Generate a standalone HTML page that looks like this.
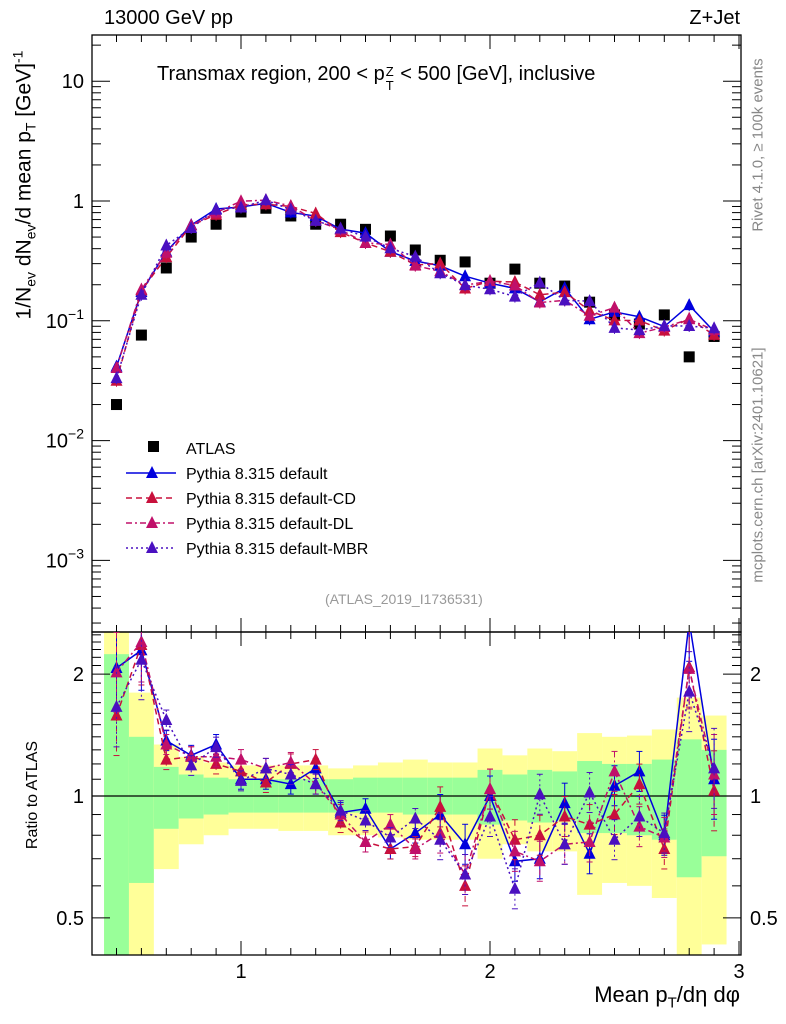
<!DOCTYPE html>
<html><head><meta charset="utf-8"><style>
body{margin:0;background:#fff;}
svg{display:block;font-family:"Liberation Sans",sans-serif;}
</style></head><body>
<svg id="c" width="786" height="1024" viewBox="0 0 786 1024"></svg>
<script>
const xs=[0.5,0.6,0.7,0.8,0.9,1.0,1.1,1.2,1.3,1.4,1.5,1.6,1.7,1.8,1.9,2.0,2.1,2.2,2.3,2.4,2.5,2.6,2.7,2.8,2.9];
const atlas=[0.020,0.076,0.276,0.50,0.64,0.81,0.87,0.75,0.64,0.64,0.58,0.51,0.39,0.32,0.31,0.206,0.27,0.206,0.195,0.143,0.112,0.094,0.112,0.050,0.074];
const rDefault=[2.07,2.29,1.37,1.26,1.34,1.10,1.10,1.07,1.17,0.91,0.93,0.74,0.81,0.90,0.76,1.00,0.69,0.70,0.96,0.72,1.06,1.15,0.80,2.70,1.10];
const rCD=[1.58,2.36,1.23,1.25,1.20,1.15,1.08,1.20,1.23,0.86,0.77,0.74,0.75,0.94,0.60,1.04,0.78,0.80,0.89,0.85,0.90,1.07,0.74,2.08,1.03];
const rDL=[2.02,2.40,1.34,1.25,1.25,1.23,1.17,1.21,1.07,0.90,0.77,0.85,0.74,0.81,0.64,1.04,0.73,0.69,0.76,0.77,1.15,0.84,0.79,2.06,1.13];
const rMBR=[1.66,2.17,1.54,1.19,1.32,1.09,1.17,1.13,1.07,0.92,0.87,0.79,0.88,0.78,0.64,0.89,0.59,1.01,0.76,1.02,0.78,0.89,0.81,1.81,1.17];
const gHi=[2.24,1.40,1.18,1.13,1.11,1.10,1.10,1.10,1.10,1.10,1.11,1.11,1.11,1.11,1.11,1.16,1.13,1.16,1.15,1.22,1.20,1.20,1.23,1.38,1.30];
const gLo=[0.40,0.61,0.83,0.88,0.90,0.91,0.91,0.91,0.91,0.91,0.91,0.91,0.90,0.90,0.90,0.85,0.87,0.86,0.87,0.81,0.81,0.80,0.78,0.63,0.71];
const yHi=[2.6,1.80,1.34,1.25,1.21,1.19,1.19,1.19,1.19,1.17,1.19,1.21,1.23,1.21,1.21,1.31,1.26,1.31,1.29,1.43,1.40,1.41,1.46,1.75,1.58];
const yLo=[0.40,0.40,0.66,0.76,0.80,0.83,0.83,0.82,0.82,0.80,0.80,0.79,0.78,0.78,0.78,0.70,0.76,0.73,0.73,0.57,0.61,0.60,0.56,0.40,0.43];
const mainTicks=["10","1","10\u207B\u00B9","10\u207B\u00B2","10\u207B\u00B3"];
const ratioTicks=[2,1,0.5];
const xTicks=[1,2,3];

const NS="http://www.w3.org/2000/svg";const svg=document.getElementById('c');
function el(t,a,p){const e=document.createElementNS(NS,t);for(const k in a)e.setAttribute(k,a[k]);(p||svg).appendChild(e);return e;}
const L=92,R=741,T=35,M=632,B=955;
const X=v=>91.6+(v-0.4)*249;
const Y=v=>201-Math.log10(v)*119.8;
const RY=v=>796-Math.log10(v)*405;
const clampR=y=>Math.max(M,Math.min(B,y));

const bandG=el('g',{});
xs.forEach((x,i)=>{
 const x0=Math.max(L,X(x-0.05)),x1=X(x+0.05);
 const y=el('rect',{x:x0,y:clampR(RY(yHi[i])),width:x1-x0,height:clampR(RY(yLo[i]))-clampR(RY(yHi[i])),fill:'#ffff99'},bandG);
 
 const g=el('rect',{x:x0,y:clampR(RY(gHi[i])),width:x1-x0,height:clampR(RY(gLo[i]))-clampR(RY(gHi[i])),fill:'#99ff99'},bandG);
 
});
el('line',{x1:L,x2:R,y1:RY(1),y2:RY(1),stroke:'#000','stroke-width':1.3});

el('rect',{x:L,y:T,width:R-L,height:M-T,fill:'none',stroke:'#000','stroke-width':1.3});
el('rect',{x:L,y:M,width:R-L,height:B-M,fill:'none',stroke:'#000','stroke-width':1.3});

for(let v=0.5;v<=3.001;v+=0.1){const major=Math.abs(v-Math.round(v))<0.01;const len=major?14:7;const x=X(v);
 [[T,1],[M,-1],[M,1],[B,-1]].forEach(([y0,d])=>el('line',{x1:x,x2:x,y1:y0,y2:y0+d*len,stroke:'#000','stroke-width':1}));}
xTicks.forEach(v=>{const t=el('text',{x:X(v),y:978,'font-size':20,'text-anchor':'middle'});t.textContent=v;});

for(let e=-4;e<=1;e++)for(let m=1;m<10;m++){const v=m*Math.pow(10,e);const y=Y(v);if(y<T||y>M)continue;const len=m==1?18:9;
 el('line',{x1:L,x2:L+len,y1:y,y2:y,stroke:'#000'});el('line',{x1:R,x2:R-len,y1:y,y2:y,stroke:'#000'});}
mainTicks.forEach((s,i)=>{const v=Math.pow(10,1-i);const t=el('text',{x:84,y:Y(v)+7,'font-size':20,'text-anchor':'end'});
 if(i<2)t.textContent=s;else{t.textContent='10';const ts=el('tspan',{dy:-9,'font-size':14},t);ts.textContent='\u2212'+String(i-1);}
 });

[0.5,0.6,0.7,0.8,0.9,1,1.1,1.2,1.3,1.4,1.5,1.6,1.7,1.8,1.9,2,2.1,2.2,2.3,2.4,2.5].forEach(v=>{const y=RY(v);const len=(v==0.5||v==1||v==2)?18:9;
 el('line',{x1:L,x2:L+len,y1:y,y2:y,stroke:'#000'});el('line',{x1:R,x2:R-len,y1:y,y2:y,stroke:'#000'});});
ratioTicks.forEach(v=>{[[84,'end'],[750,'start']].forEach(([x,a])=>{const t=el('text',{x:x,y:RY(v)+7,'font-size':20,'text-anchor':a});t.textContent=v;});});

const series=[
 {name:'default',r:rDefault,c:'#0000dd',dash:'',lab:'Pythia 8.315 default'},
 {name:'default-cd',r:rCD,c:'#c8103c',dash:'6,4',lab:'Pythia 8.315 default-CD'},
 {name:'default-dl',r:rDL,c:'#c0106a',dash:'6,3,2,3',lab:'Pythia 8.315 default-DL'},
 {name:'default-mbr',r:rMBR,c:'#4a10c0',dash:'2,3',lab:'Pythia 8.315 default-MBR'}];
function tri(g,x,y,c){return el('polygon',{points:`${x},${y-7} ${x-6},${y+5} ${x+6},${y+5}`,fill:c},g);}

const ag=el('g',{});
xs.forEach((x,i)=>{const r=el('rect',{x:X(x)-5.5,y:Y(atlas[i])-5.5,width:11,height:11,fill:'#000'},ag);});

series.forEach(s=>{
 const g=el('g',{});
 const vals=xs.map((x,i)=>atlas[i]*s.r[i]);
 el('polyline',{points:xs.map((x,i)=>X(x)+','+Y(vals[i])).join(' '),fill:'none',stroke:s.c,'stroke-width':1.5,'stroke-dasharray':s.dash},g);
 xs.forEach((x,i)=>{const y=Y(vals[i]);el('line',{x1:X(x),x2:X(x),y1:y-6,y2:y+6,stroke:s.c},g);const p=tri(g,X(x),y,s.c);});
 const rg=el('g',{});
 const cp=el('clipPath',{id:'cl'+s.name},rg);el('rect',{x:L,y:M,width:R-L,height:B-M},cp);
 const inner=el('g',{'clip-path':`url(#cl${s.name})`},rg);
 el('polyline',{points:xs.map((x,i)=>X(x)+','+RY(s.r[i])).join(' '),fill:'none',stroke:s.c,'stroke-width':1.5,'stroke-dasharray':s.dash},inner);
 xs.forEach((x,i)=>{const y=RY(s.r[i]);const e=(i<2||i>22)?40:(i>12?20:10);el('line',{x1:X(x),x2:X(x),y1:y-e,y2:y+e,stroke:s.c,'stroke-dasharray':s.dash},inner);
  el('line',{x1:X(x)-3,x2:X(x)+3,y1:y-e,y2:y-e,stroke:s.c},inner);el('line',{x1:X(x)-3,x2:X(x)+3,y1:y+e,y2:y+e,stroke:s.c},inner);
  const p=tri(inner,X(x),y,s.c);});
});

const lg=el('g',{});
const le=el('g',{},lg);
el('rect',{x:148,y:441,width:11,height:11,fill:'#000'},le);
let t=el('text',{x:186,y:454,'font-size':16},le);t.textContent='ATLAS';
series.forEach((s,i)=>{const y=473+i*25;const e=el('g',{},lg);
 el('line',{x1:126,x2:176,y1:y,y2:y,stroke:s.c,'stroke-width':1.5,'stroke-dasharray':s.dash},e);tri(e,152,y,s.c);
 const tt=el('text',{x:186,y:y+6,'font-size':16},e);tt.textContent=s.lab;});
</script>
<div style="position:absolute;left:0;top:0;width:786px;height:1024px;pointer-events:none;font-family:'Liberation Sans',sans-serif;">
<div style="position:absolute;left:104px;top:7px;font-size:20px;">13000 GeV pp</div>
<div style="position:absolute;right:46px;top:7px;font-size:20px;">Z+Jet</div>
<div style="position:absolute;left:157px;top:63px;font-size:20px;white-space:nowrap;">Transmax region, 200 &lt; p<span style="display:inline-block;position:relative;width:10px;height:10px;"><span style="position:absolute;left:1px;top:-6px;font-size:13px;">Z</span><span style="position:absolute;left:1px;top:8px;font-size:13px;">T</span></span> &lt; 500 [GeV], inclusive</div>
<div style="position:absolute;left:325px;top:591px;font-size:14px;color:#999;">(ATLAS_2019_I1736531)</div>
<div style="position:absolute;left:24px;top:185px;width:0;height:0;"><div style="position:absolute;transform:translate(-50%,-50%) rotate(-90deg);font-size:21px;white-space:nowrap;">1/N<sub style="font-size:14px">ev</sub> dN<sub style="font-size:14px">ev</sub>/d mean p<sub style="font-size:14px">T</sub> [GeV]<sup style="font-size:14px">-1</sup></div></div>
<div style="position:absolute;left:33px;top:795px;width:0;height:0;"><div style="position:absolute;transform:translate(-50%,-50%) rotate(-90deg);font-size:16px;white-space:nowrap;">Ratio to ATLAS</div></div>
<div style="position:absolute;left:758px;top:145px;width:0;height:0;"><div style="position:absolute;transform:translate(-50%,-50%) rotate(-90deg);font-size:15px;color:#888;white-space:nowrap;">Rivet 4.1.0, ≥ 100k events</div></div>
<div style="position:absolute;left:758px;top:465px;width:0;height:0;"><div style="position:absolute;transform:translate(-50%,-50%) rotate(-90deg);font-size:15px;color:#888;white-space:nowrap;">mcplots.cern.ch [arXiv:2401.10621]</div></div>
<div style="position:absolute;right:46px;top:982px;font-size:22px;white-space:nowrap;">Mean p<sub style="font-size:15px">T</sub>/dη dφ</div>
</div>
</body></html>
